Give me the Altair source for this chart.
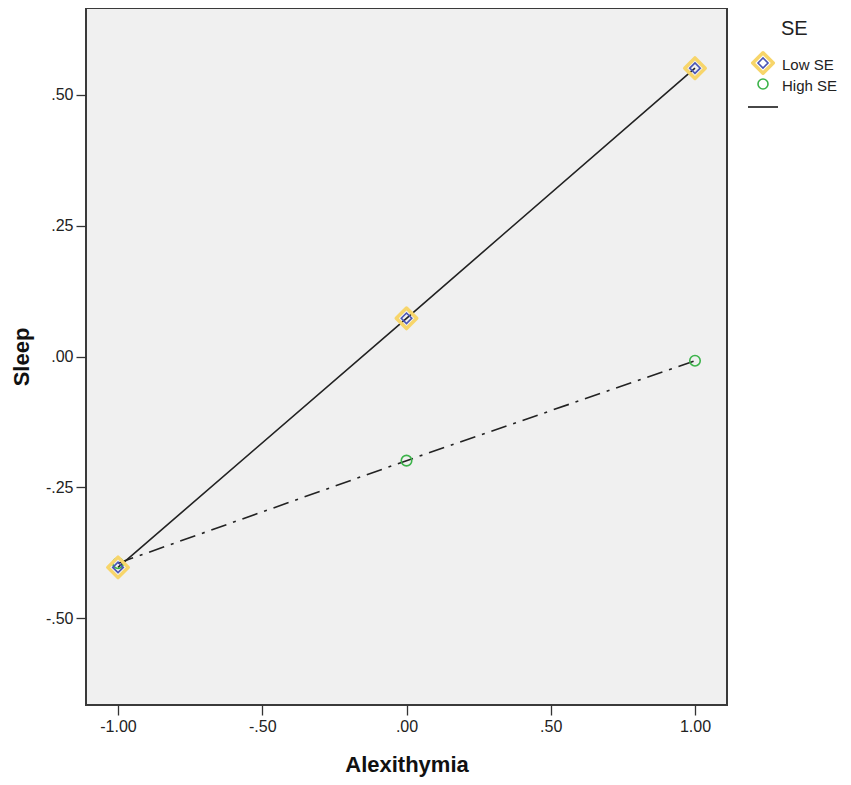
import altair as alt
import pandas as pd

x_vals = [-1.0, 0.0, 1.0]
low_se = [-0.403, 0.073, 0.551]
high_se = [-0.395, -0.199, -0.008]
groups = ["Low SE", "High SE"]

df = pd.DataFrame({
    "Alexithymia": x_vals * 2,
    "Sleep": low_se + high_se,
    "SE": [groups[0]] * 3 + [groups[1]] * 3,
})
low_df = df[df.SE == "Low SE"]
high_df = df[df.SE == "High SE"]
one = pd.DataFrame({"k": [0]})

FONT = "Liberation Sans"
W, H = 641, 697
LBL = "(datum.value < 0 ? '-' : '') + replace(format(abs(datum.value), '.2f'), '0.', '.')"

xs = alt.Scale(domain=[-1.111, 1.111], nice=False, zero=False)
ys = alt.Scale(domain=[-0.666, 0.666], nice=False, zero=False)

x_enc = alt.X("Alexithymia:Q", scale=xs, title="Alexithymia",
              axis=alt.Axis(values=[-1, -0.5, 0, 0.5, 1], labelExpr=LBL,
                            grid=False, tickSize=10, tickColor="#333", tickWidth=1.3, domain=False,
                            labelFont=FONT, labelFontSize=16, labelColor="#222", labelPadding=3,
                            titleFont=FONT, titleFontSize=22, titleFontWeight="bold", titleColor="#111",
                            titlePadding=20))
y_enc = alt.Y("Sleep:Q", scale=ys, title="Sleep",
              axis=alt.Axis(values=[-0.5, -0.25, 0, 0.25, 0.5], labelExpr=LBL,
                            grid=False, tickSize=10, tickColor="#333", tickWidth=1.3, domain=False,
                            labelFont=FONT, labelFontSize=16, labelColor="#222", labelPadding=3,
                            titleFont=FONT, titleFontSize=22, titleFontWeight="bold", titleColor="#111",
                            titlePadding=12))

low_line = alt.Chart(low_df).mark_line(color="#222", strokeWidth=1.6).encode(x=x_enc, y=y_enc)
high_line = alt.Chart(high_df).mark_line(color="#222", strokeWidth=1.6, strokeDash=[16, 7, 3, 7]).encode(x=x_enc, y=y_enc)

high_pts = alt.Chart(high_df).mark_point(shape="circle", filled=False, color="#3cb34a", size=110, strokeWidth=1.6, opacity=1).encode(x=x_enc, y=y_enc)
halo = alt.Chart(low_df).mark_point(shape="diamond", filled=False, color="#f7d56a", size=420, strokeWidth=3.5, strokeJoin="round", opacity=1).encode(x=x_enc, y=y_enc)
low_pts = alt.Chart(low_df).mark_point(shape="diamond", filled=False, color="#4a55b5", size=110, strokeWidth=1.6, opacity=1).encode(x=x_enc, y=y_enc)

# legend
lx = 677
leg_title = alt.Chart(one).mark_text(text="SE", font=FONT, fontSize=20, color="#222", align="left", baseline="middle").encode(
    x=alt.value(lx + 18), y=alt.value(21))
leg_halo = alt.Chart(one).mark_point(shape="diamond", filled=False, color="#f7d56a", size=420, strokeWidth=3.5, strokeJoin="round", opacity=1).encode(
    x=alt.value(lx), y=alt.value(55))
leg_low = alt.Chart(one).mark_point(shape="diamond", filled=False, color="#4a55b5", size=100, strokeWidth=1.6, opacity=1).encode(
    x=alt.value(lx), y=alt.value(55))
leg_low_t = alt.Chart(one).mark_text(text=groups[0], font=FONT, fontSize=15, color="#222", align="left", baseline="middle").encode(
    x=alt.value(lx + 19), y=alt.value(57))
leg_high = alt.Chart(one).mark_point(shape="circle", filled=False, color="#3cb34a", size=100, strokeWidth=1.6, opacity=1).encode(
    x=alt.value(lx), y=alt.value(76))
leg_high_t = alt.Chart(one).mark_text(text=groups[1], font=FONT, fontSize=15, color="#222", align="left", baseline="middle").encode(
    x=alt.value(lx + 19), y=alt.value(78))
leg_line = alt.Chart(one).mark_rule(color="#333", strokeWidth=1.8).encode(
    x=alt.value(lx - 15), x2=alt.value(lx + 15), y=alt.value(99))

chart = alt.layer(
    low_line, high_line, high_pts, halo, low_pts,
    leg_title, leg_halo, leg_low, leg_low_t, leg_high, leg_high_t, leg_line,
).properties(
    width=W, height=H,
    background="white",
    autosize=alt.AutoSizeParams(type="none"),
    padding={"left": 78, "top": 0, "right": 115, "bottom": 72},
).configure_view(
    fill="#f0f0f0", stroke="#3a3a3a", strokeWidth=2,
)

chart.save("out.html", embed_options={"renderer": "svg", "actions": False})
